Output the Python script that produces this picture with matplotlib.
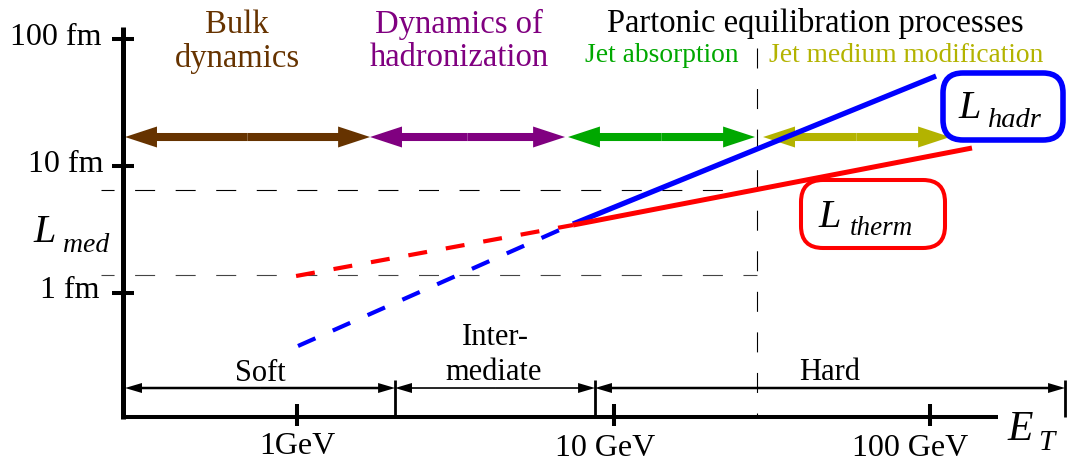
import matplotlib
matplotlib.use('Agg')
import matplotlib.pyplot as plt
from matplotlib.patches import FancyArrowPatch, FancyBboxPatch, ArrowStyle

plt.rcParams['font.family'] = ['Liberation Serif', 'DejaVu Serif']
plt.rcParams['lines.scale_dashes'] = False

# ---------------- data ----------------
E_lim = (0.1152, 270.9)          # GeV
L_lim = (0.04669, 202.9)         # fm

ytick_vals = [1, 10, 100]
ytick_labels = ['1 fm', '10 fm', '100 fm']
xtick_vals = [1, 10, 100]
xtick_labels = ['1GeV', '10 GeV', '100 GeV']

therm_dash_E = [0.993, 7.447]
therm_dash_L = [1.361, 3.43]
therm_solid_E = [7.447, 135.7]
therm_solid_L = [3.43, 13.86]

hadr_dash_E = [1.007, 7.447]
hadr_dash_L = [0.3825, 3.494]
hadr_solid_E = [7.447, 104.5]
hadr_solid_L = [3.494, 51.1]

guide_L = [6.47, 1.386]
guide_E = 28.41
guide_E_start = 0.2409
guide_L_top = 84.9
guide_L_bottom = 0.1095

axis_E0 = 0.2819
axis_L_top = 124.3
axis_L0 = 0.1056
axis_E_end = 164.0

process_ranges = [(0.2861, 1.701), (1.701, 7.028), (7.180, 28.00), (29.68, 115.7)]
process_colors = ['#663300', '#800080', '#00A800', '#B3B300']
process_L = 16.92

regime_edges = [0.2861, 2.040, 8.740, 267.0]
regime_L = 0.1786
regime_bar_L = (0.2065, 0.1056)

# ---------------- figure ----------------
fig = plt.figure(figsize=(10.67, 4.62), dpi=100)
ax = fig.add_axes([0, 0, 1, 1])
ax.set_xscale('log')
ax.set_yscale('log')
ax.set_xlim(*E_lim)
ax.set_ylim(*L_lim)
ax.axis('off')
IN = fig.dpi_scale_trans

# guides (thin dashed)
ax.plot([guide_E_start, guide_E], [guide_L[0]] * 2, color='black', lw=0.8,
        linestyle=(5, (14.4, 14.8)))
ax.plot([guide_E_start, guide_E], [guide_L[1]] * 2, color='#444444', lw=0.8,
        linestyle=(5, (14.4, 14.8)))
ax.plot([guide_E, guide_E], [guide_L_top, guide_L_bottom], color='black', lw=0.8,
        linestyle=(0, (14.4, 14.8)))

# axes lines
ax.plot([axis_E0, axis_E0], [axis_L_top, 0.1018], color='black', lw=3.6,
        solid_capstyle='butt')
ax.plot([0.2779, axis_E_end], [axis_L0, axis_L0], color='black', lw=2.9,
        solid_capstyle='butt')
ax.plot([axis_E0] * 3, ytick_vals, linestyle='none', marker='_', ms=16.5,
        mew=2.9, color='black')
ax.plot(xtick_vals, [0.1085] * 3, linestyle='none', marker='|', ms=16.5,
        mew=2.9, color='black')

# curves
ax.plot(therm_dash_E, therm_dash_L, color='#FF0000', lw=3.0,
        dashes=(13.7, 13.7), dash_capstyle='butt')
ax.plot(hadr_dash_E, hadr_dash_L, color='#0000FF', lw=3.0,
        dashes=(13.7, 13.7), dash_capstyle='butt')
ax.plot(hadr_solid_E, hadr_solid_L, color='#0000FF', lw=3.8,
        solid_capstyle='butt')
ax.plot(therm_solid_E, therm_solid_L, color='#FF0000', lw=3.6,
        solid_capstyle='butt')


def double_arrow(e0, e1, L, color, hl, hw, tw):
    mid = (e0 * e1) ** 0.5
    for end in (e0, e1):
        a = FancyArrowPatch((mid, L), (end, L),
                            arrowstyle=ArrowStyle.Simple(head_length=hl, head_width=hw,
                                                         tail_width=tw),
                            mutation_scale=1, color=color, lw=0,
                            shrinkA=0, shrinkB=0)
        ax.add_patch(a)


for (e0, e1), c in zip(process_ranges, process_colors):
    double_arrow(e0, e1, process_L, c, 23, 15.1, 5.8)

tws = [1.8, 1.2, 1.8]
for i in range(3):
    double_arrow(regime_edges[i], regime_edges[i + 1], regime_L, 'black', 12.2, 7.2, tws[i])
for e in regime_edges[1:]:
    ax.plot([e, e], regime_bar_L, color='black', lw=2.0, solid_capstyle='butt')

# boxes (inches)
ax.add_patch(FancyBboxPatch((9.43, 3.22), 1.20, 0.67,
                            boxstyle='round,pad=0,rounding_size=0.2',
                            transform=IN, fc='none', ec='#0000FF', lw=4.0))
ax.add_patch(FancyBboxPatch((8.01, 2.14), 1.44, 0.68,
                            boxstyle='round,pad=0,rounding_size=0.22',
                            transform=IN, fc='none', ec='#FF0000', lw=2.9))

# texts
big = 23.5
mid_fs = 19.8
SERIF = ['Liberation Serif', 'DejaVu Serif']


def txt(x, y, s, color='black', size=big, ha='center', style='normal'):
    ax.text(x, y, s, transform=IN, color=color, fontsize=size, ha=ha,
            va='baseline', style=style, family=SERIF)


txt(2.37, 4.29, 'Bulk', process_colors[0])
txt(2.37, 3.95, 'dynamics', process_colors[0])
txt(4.59, 4.29, 'Dynamics of', process_colors[1])
txt(4.59, 3.96, 'hadronization', process_colors[1])
txt(8.15, 4.30, 'Partonic equilibration processes')
txt(6.62, 4.00, 'Jet absorption', process_colors[2], mid_fs)
txt(9.06, 4.00, 'Jet medium modification', process_colors[3], mid_fs)

for v, lab, x, y in zip(ytick_vals, ytick_labels, [1.00, 1.03, 1.02], [1.64, 2.90, 4.17]):
    txt(x, y, lab, ha='right', size=23)
for v, lab, x, y in zip(xtick_vals, xtick_labels, [2.97, 6.05, 9.10], [0.08, 0.065, 0.055]):
    txt(x, y, lab, size=23)

txt(2.60, 0.81, 'Soft', size=22)
txt(4.95, 1.17, 'Inter-', size=22)
txt(4.94, 0.82, 'mediate', size=22)
txt(8.30, 0.82, 'Hard', size=22)

txt(0.33, 2.20, 'L', size=29, ha='left', style='italic')
txt(0.63, 2.10, 'med', size=20, ha='left', style='italic')
txt(9.58, 3.44, 'L', size=29, ha='left', style='italic')
txt(9.88, 3.35, 'hadr', size=20.5, ha='left', style='italic')
txt(8.18, 2.35, 'L', size=29, ha='left', style='italic')
txt(8.50, 2.27, 'therm', size=19.5, ha='left', style='italic')
txt(10.07, 0.22, 'E', size=30, ha='left', style='italic')
txt(10.38, 0.12, 'T', size=21, ha='left', style='italic')

fig.savefig('out.png', dpi=100)
